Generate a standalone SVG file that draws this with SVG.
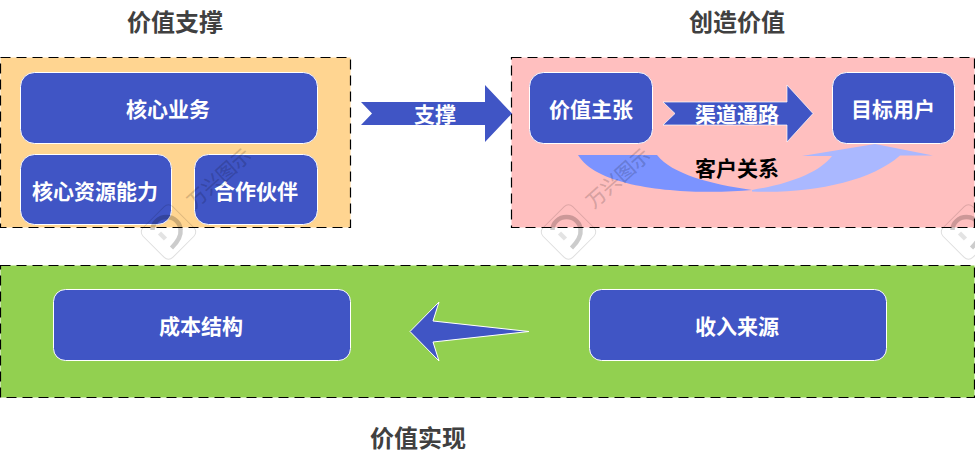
<svg xmlns="http://www.w3.org/2000/svg" width="975" height="456" viewBox="0 0 975 456">
<style>
text{font-family:"Noto Sans CJK SC","Noto Sans",sans-serif;font-weight:700;text-anchor:middle;dominant-baseline:central}
.title{font-size:24px;fill:#404040}
.n{fill:#4055c5;stroke:#fff;stroke-width:1}
.t{font-size:21px;fill:#fff}
.panel{stroke:#000;stroke-width:1.200;stroke-dasharray:10 6}
.arrow{fill:#4055c5}
.hex{fill:none;stroke:#000;stroke-opacity:.13;stroke-width:1}
.wt{font-size:19.500px;font-weight:500;fill:#000;fill-opacity:.17}
</style>
<defs>
<g id="mark"><rect x="-21" y="-21" width="42" height="42" rx="6" transform="rotate(45)" class="hex"/><path d="M-16,-2 A14,13 0 0 1 12,-2 C13,5 8,11 3,16" fill="none" stroke="#000" stroke-opacity=".2" stroke-width="4.500"/><path d="M-9,1 L-3,7" fill="none" stroke="#000" stroke-opacity=".11" stroke-width="4.500"/></g>
</defs>
<g id="panels">
<rect id="panel-support" class="panel" x="0.500" y="57.500" width="350" height="170" fill="#ffd591"/>
<rect id="panel-create" class="panel" x="511.500" y="57.500" width="463" height="170" fill="#ffbfbf"/>
<rect id="panel-realize" class="panel" x="0.500" y="265.500" width="974" height="132" fill="#92d050"/>
</g>
<g id="titles">
<text class="title" x="175" y="20">价值支撑</text>
<text class="title" x="737" y="20">创造价值</text>
<text class="title" x="418" y="436">价值实现</text>
</g>
<g id="connectors">
<path id="arrow-support" class="arrow" d="M361,102H485V85L512,113.500L485,142V125H361L372,113.500Z"/>
<path id="arrow-channel" class="arrow" stroke="#fff" stroke-width="0.700" d="M663,102H787V85L813,113.500L787,142V125H663L675,113.500Z"/>
<path id="curve-out" fill="#7b93ff" d="M578,155H657C672,174 710,184 752,190C700,195 600,192 578,155Z"/>
<path id="curve-back" fill="#aab8ff" d="M752,190C790,184 820,172 832,156L802,156L875,144L933,155.500H900C870,182 810,194 752,191.500Z"/>
<path id="arrow-cost" class="arrow" stroke="#fff" stroke-width="1" d="M410,331.500L439,302L433,321L529,331.500L433,342L439,361Z"/>
</g>
<g id="node-core-business"><rect class="n" x="20.500" y="72.500" width="297" height="71" rx="14"/><text class="t" x="168" y="108">核心业务</text></g>
<g id="node-core-resources"><rect class="n" x="20.500" y="154.500" width="151" height="70" rx="14"/><text class="t" x="95" y="190">核心资源能力</text></g>
<g id="node-partners"><rect class="n" x="194.500" y="154.500" width="123" height="70" rx="14"/><text class="t" x="256" y="190">合作伙伴</text></g>
<g id="node-value-prop"><rect class="n" x="529.500" y="72.500" width="123" height="71" rx="14"/><text class="t" x="591" y="108">价值主张</text></g>
<g id="node-target-users"><rect class="n" x="832.500" y="72.500" width="122" height="71" rx="14"/><text class="t" x="893" y="108">目标用户</text></g>
<g id="node-cost"><rect class="n" x="53.500" y="289.500" width="297" height="71" rx="12"/><text class="t" x="201" y="325">成本结构</text></g>
<g id="node-revenue"><rect class="n" x="589.500" y="289.500" width="297" height="71" rx="12"/><text class="t" x="737" y="325">收入来源</text></g>
<g id="labels">
<text class="t" x="435" y="113">支撑</text>
<text class="t" x="737" y="113">渠道通路</text>
<text class="t" x="737" y="167" style="fill:#000">客户关系</text>
</g>
<g id="watermarks">
<use href="#mark" x="168.500" y="232"/><use href="#mark" x="568.500" y="232"/><use href="#mark" x="968.500" y="232"/>
<text class="wt" transform="translate(218,177) rotate(-42)">万兴图示</text>
<text class="wt" transform="translate(617,177) rotate(-42)">万兴图示</text>
</g>
</svg>
